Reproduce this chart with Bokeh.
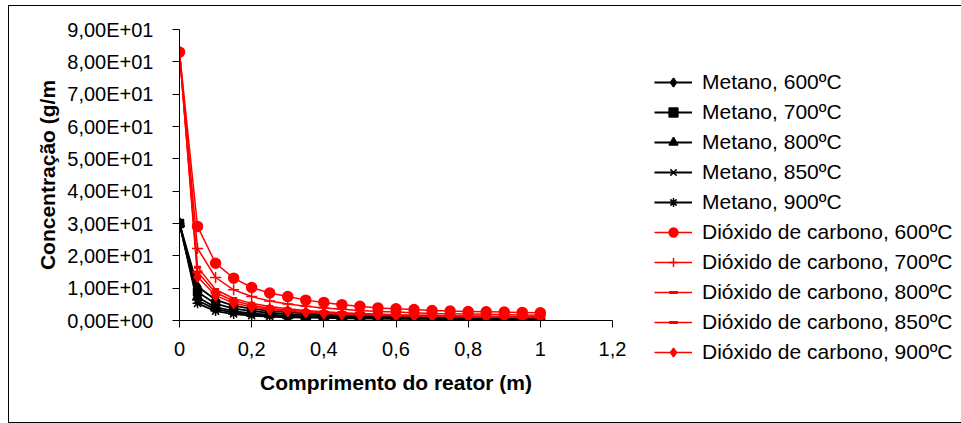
from bokeh.plotting import figure
from bokeh.models import Legend, LegendItem, FixedTicker, Range1d
from bokeh.embed import file_html
from bokeh.resources import INLINE

x_vals = [0, 0.05, 0.1, 0.15, 0.2, 0.25, 0.3, 0.35, 0.4, 0.45, 0.5,
          0.55, 0.6, 0.65, 0.7, 0.75, 0.8, 0.85, 0.9, 0.95, 1.0]

metano_600 = [30, 10.5, 6.4, 4.6, 3.6, 3.0, 2.6, 2.3, 2.0, 1.8, 1.7, 1.6, 1.5, 1.4, 1.3, 1.2, 1.2, 1.1, 1.1, 1.0, 1.0]
metano_700 = [30, 8.8, 5.2, 3.7, 2.9, 2.4, 2.0, 1.8, 1.6, 1.4, 1.3, 1.2, 1.1, 1.0, 1.0, 0.9, 0.9, 0.8, 0.8, 0.8, 0.7]
metano_800 = [30, 7.2, 4.1, 2.9, 2.2, 1.8, 1.5, 1.3, 1.2, 1.1, 1.0, 0.9, 0.8, 0.8, 0.7, 0.7, 0.6, 0.6, 0.6, 0.5, 0.5]
metano_850 = [30, 6.2, 3.5, 2.4, 1.9, 1.5, 1.3, 1.1, 1.0, 0.9, 0.8, 0.7, 0.7, 0.6, 0.6, 0.5, 0.5, 0.5, 0.5, 0.4, 0.4]
metano_900 = [30, 5.3, 2.9, 2.0, 1.5, 1.2, 1.0, 0.9, 0.8, 0.7, 0.6, 0.6, 0.5, 0.5, 0.5, 0.4, 0.4, 0.4, 0.4, 0.3, 0.3]

co2_600 = [83, 29.1, 17.7, 13.1, 10.2, 8.5, 7.4, 6.3, 5.6, 4.9, 4.4, 3.9, 3.6, 3.4, 3.1, 2.9, 2.8, 2.7, 2.6, 2.5, 2.4]
co2_700 = [83, 22.3, 13.3, 9.5, 7.4, 6.0, 5.1, 4.4, 3.9, 3.5, 3.1, 2.8, 2.6, 2.4, 2.2, 2.1, 2.0, 1.9, 1.8, 1.7, 1.6]
co2_800 = [83, 16.5, 9.6, 6.8, 5.3, 4.3, 3.6, 3.1, 2.7, 2.4, 2.2, 2.0, 1.8, 1.7, 1.6, 1.5, 1.4, 1.3, 1.2, 1.2, 1.1]
co2_850 = [83, 15.0, 8.6, 6.1, 4.7, 3.8, 3.2, 2.8, 2.4, 2.2, 2.0, 1.8, 1.6, 1.5, 1.4, 1.3, 1.2, 1.2, 1.1, 1.0, 1.0]
co2_900 = [83, 13.5, 7.7, 5.4, 4.2, 3.4, 2.9, 2.5, 2.2, 1.9, 1.7, 1.6, 1.5, 1.4, 1.3, 1.2, 1.1, 1.0, 1.0, 0.9, 0.9]

series_labels = ["Metano, 600ºC", "Metano, 700ºC", "Metano, 800ºC", "Metano, 850ºC", "Metano, 900ºC",
                 "Dióxido de carbono, 600ºC", "Dióxido de carbono, 700ºC", "Dióxido de carbono, 800ºC",
                 "Dióxido de carbono, 850ºC", "Dióxido de carbono, 900ºC"]
series_values = [metano_600, metano_700, metano_800, metano_850, metano_900,
                 co2_600, co2_700, co2_800, co2_850, co2_900]

y_ticks = [0, 10, 20, 30, 40, 50, 60, 70, 80, 90]
y_tick_labels = ["0,00E+00", "1,00E+01", "2,00E+01", "3,00E+01", "4,00E+01",
                 "5,00E+01", "6,00E+01", "7,00E+01", "8,00E+01", "9,00E+01"]
x_ticks = [0, 0.2, 0.4, 0.6, 0.8, 1.0, 1.2]
x_tick_labels = ["0", "0,2", "0,4", "0,6", "0,8", "1", "1,2"]

x_title = "Comprimento do reator (m)"
y_title = "Concentração (g/m"

colors = ["black"] * 5 + ["red"] * 5
markers = ["diamond", "square", "triangle", "x", "asterisk",
           "circle", "cross", "dash", "dash", "diamond"]
sizes = [10, 8, 10, 9, 10, 10, 11, 7, 10, 11]

FONT = "Liberation Sans"

p = figure(frame_width=433, frame_height=291, output_backend="svg", toolbar_location=None,
           x_range=Range1d(0, 1.2), y_range=Range1d(0, 90),
           min_border_left=170, min_border_right=30, min_border_top=23, min_border_bottom=102)
p.margin = (5, 0, 0, 8)
p.styles = {"border": "1.5px solid black"}
p.outline_line_color = None
p.xgrid.grid_line_color = None
p.ygrid.grid_line_color = None
p.background_fill_color = "white"
p.border_fill_color = "white"

items = []
for lab, vals, col, mk, sz in zip(series_labels, series_values, colors, markers, sizes):
    lw_line = 1.8 if col == "black" else 1.5
    r1 = p.line(x_vals, vals, line_color=col, line_width=lw_line)
    lw = 3 if mk == "dash" else 1.5
    r2 = p.scatter(x_vals, vals, marker=mk, size=sz, fill_color=col, line_color=col, line_width=lw)
    items.append(LegendItem(label=lab, renderers=[r1, r2]))

# axes
p.yaxis.ticker = FixedTicker(ticks=y_ticks)
p.yaxis.major_label_overrides = {t: l for t, l in zip(y_ticks, y_tick_labels)}
p.xaxis.ticker = FixedTicker(ticks=x_ticks)
p.xaxis.major_label_overrides = {t: l for t, l in zip(x_ticks, x_tick_labels)}
for ax in (p.xaxis[0], p.yaxis[0]):
    ax.axis_line_color = "black"
    ax.axis_line_width = 1
    ax.major_tick_line_color = "black"
    ax.major_tick_in = 0
    ax.major_tick_out = 7
    ax.minor_tick_line_color = None
    ax.major_label_text_font = FONT
    ax.major_label_text_font_size = "20px"
    ax.major_label_text_color = "black"
    ax.axis_label_text_font = FONT
    ax.axis_label_text_font_size = "21px"
    ax.axis_label_text_font_style = "bold"
    ax.axis_label_text_color = "black"
p.xaxis.major_label_standoff = 14
p.yaxis.major_label_standoff = 19
p.xaxis.axis_label = x_title
p.yaxis.axis_label = y_title
p.xaxis.axis_label_standoff = 12
p.yaxis.axis_label_standoff = 5

legend = Legend(items=items, location=(42, -44), border_line_color=None,
                background_fill_alpha=0, padding=0, margin=0, spacing=6,
                glyph_width=38, glyph_height=22, label_height=22, label_standoff=10,
                label_text_font=FONT, label_text_font_size="21px", label_text_color="black")
p.add_layout(legend, "right")

open("out.html", "w").write(file_html(p, INLINE))
